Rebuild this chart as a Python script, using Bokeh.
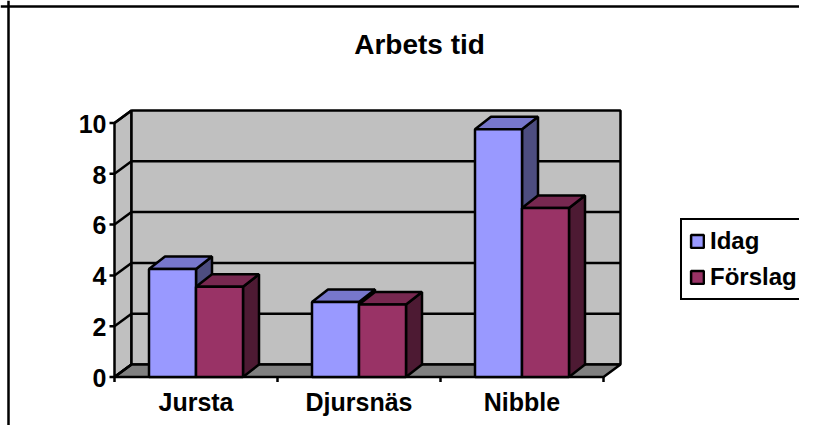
from bokeh.plotting import figure
from bokeh.models import Legend, LegendItem, Span
from bokeh.core.properties import value
from bokeh.embed import file_html
from bokeh.resources import INLINE

# ---- data ----
categories = ["Jursta", "Djursnäs", "Nibble"]
idag = [4.25, 2.95, 9.75]
forslag = [3.55, 2.85, 6.65]
series_names = ["Idag", "Förslag"]
y_ticks = [0, 2, 4, 6, 8, 10]
title_text = "Arbets tid"

# ---- layout constants (pixels) ----
W, H = 799, 425
PXX = 163.0   # px per category
PXY = 25.4    # px per y unit
X0 = 195.5    # screen x of first category centre
Y0 = 48.5     # screen y (from bottom) of value 0
TXT_SHIFT = 8.0  # compensation for text baseline placement
FONT = "Liberation Sans"


def dx(px):
    return px / PXX


def dy(px):
    return px / PXY


p = figure(width=W, height=H,
           x_range=(-X0 / PXX, (W - X0) / PXX),
           y_range=(-Y0 / PXY, (H - Y0) / PXY),
           x_axis_type=None, y_axis_type=None,
           toolbar_location=None, output_backend="svg", min_border=0)
p.outline_line_color = None
p.background_fill_color = "white"
p.border_fill_color = "white"

n = len(categories)
xl, xr = -0.5, n - 0.5
ymax = y_ticks[-1]
WD, WDY = dx(17), dy(12.5)
BD, BDY = dx(16), dy(12.5)
BW = dx(47)
LW = 2.5

# walls and floor
p.patch([xl, xl, xl + WD, xl + WD], [0, ymax, ymax + WDY, WDY],
        fill_color="#c0c0c0", line_color="black", line_width=LW)
p.quad(left=[xl + WD], right=[xr + WD], bottom=[WDY], top=[ymax + WDY],
       fill_color="#c0c0c0", line_color="black", line_width=LW)
p.patch([xl, xr, xr + WD, xl + WD], [0, 0, WDY, WDY],
        fill_color="#808080", line_color="black", line_width=LW)

# gridlines
inner = y_ticks[1:-1]
p.segment(x0=[xl + WD] * len(inner), y0=[v + WDY for v in inner],
          x1=[xr + WD] * len(inner), y1=[v + WDY for v in inner],
          line_color="black", line_width=LW)
p.segment(x0=[xl] * len(y_ticks), y0=y_ticks,
          x1=[xl + WD] * len(y_ticks), y1=[v + WDY for v in y_ticks],
          line_color="black", line_width=LW)

# axis ticks
p.segment(x0=[xl - dx(5)] * len(y_ticks), y0=y_ticks,
          x1=[xl] * len(y_ticks), y1=y_ticks, line_color="black", line_width=LW)
bounds = [i - 0.5 for i in range(n + 1)]
p.segment(x0=bounds, y0=[0] * len(bounds), x1=bounds, y1=[-dy(5)] * len(bounds),
          line_color="black", line_width=LW)

# bars
colors = [("#9999ff", "#7777cc", "#4d4d80"), ("#993366", "#772850", "#4d1a33")]
front_renderers = []
for si, vals in enumerate([idag, forslag]):
    front, top, side = colors[si]
    x0s = [c - BW + si * BW for c in range(n)]
    x1s = [x + BW for x in x0s]
    p.patches([[x1, x1, x1 + BD, x1 + BD] for x1 in x1s],
              [[0, v, v + BDY, BDY] for v in vals],
              fill_color=side, line_color="black", line_width=LW)
    p.patches([[x0, x1, x1 + BD, x0 + BD] for x0, x1 in zip(x0s, x1s)],
              [[v, v, v + BDY, v + BDY] for v in vals],
              fill_color=top, line_color="black", line_width=LW)
    r = p.quad(left=x0s, right=x1s, bottom=[0] * n, top=vals,
               fill_color=front, line_color="black", line_width=LW)
    front_renderers.append(r)

# tick labels
p.text(x=[xl - dx(8)] * len(y_ticks), y=[v - dy(8.8 - TXT_SHIFT) for v in y_ticks],
       text=[str(v) for v in y_ticks], text_align="right", text_baseline="alphabetic",
       text_font=value(FONT), text_font_style="bold", text_font_size="25px",
       text_color="black")
p.text(x=list(range(n)), y=[-dy(32.5 - TXT_SHIFT)] * n, text=categories,
       text_align="center", text_baseline="alphabetic",
       text_font=value(FONT), text_font_style="bold", text_font_size="25px",
       text_color="black")

# title
p.text(x=[dx(419 - X0)], y=[dy(H - 52.3 + TXT_SHIFT - Y0)], text=[title_text],
       text_align="center", text_baseline="alphabetic",
       text_font=value(FONT), text_font_style="bold", text_font_size="28px",
       text_color="black")

# outer chart border (left and top visible)
p.add_layout(Span(location=(8 - X0) / PXX, dimension="height",
                  line_color="black", line_width=2.5))
p.add_layout(Span(location=(H - 6 - Y0) / PXY, dimension="width",
                  line_color="black", line_width=2.5))

legend = Legend(items=[LegendItem(label=nm, renderers=[r])
                       for nm, r in zip(series_names, front_renderers)],
                location=(680, 125))
legend.border_line_color = "black"
legend.border_line_alpha = 1
legend.border_line_width = 2.5
legend.background_fill_color = "white"
legend.background_fill_alpha = 1
legend.label_text_font = FONT
legend.label_text_font_style = "bold"
legend.label_text_font_size = "24px"
legend.label_text_color = "black"
legend.glyph_width = 16
legend.glyph_height = 16
legend.label_standoff = 5
legend.padding = 7
legend.spacing = 8
legend.margin = 0
p.add_layout(legend)

open("out.html", "w").write(file_html(p, INLINE))
